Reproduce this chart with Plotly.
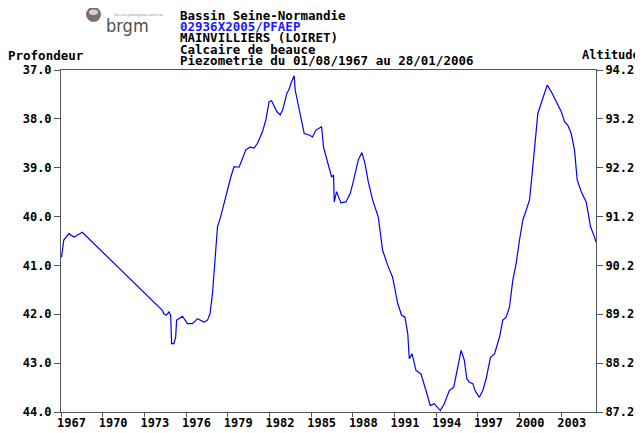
import pandas as pd
import numpy as np
import plotly.graph_objects as go

# ---- data (decimal year, depth in m) ----
years = [1967.62, 1967.78, 1968.15, 1968.50, 1968.87, 1969.11,
         1974.87, 1974.99, 1975.16, 1975.35, 1975.47, 1975.54, 1975.71, 1975.83, 1975.90,
         1976.32, 1976.68, 1977.04, 1977.40, 1977.87, 1978.12, 1978.30, 1978.48, 1978.64,
         1978.84, 1979.07, 1979.31, 1979.56, 1979.80, 1980.03, 1980.39, 1980.64, 1980.88,
         1981.19, 1981.47, 1981.72, 1982.08, 1982.32, 1982.55, 1982.73, 1982.92, 1983.11,
         1983.35, 1983.54, 1983.83, 1983.97, 1984.17, 1984.36, 1984.43, 1984.64, 1984.84,
         1985.08, 1985.44, 1985.68, 1985.92, 1986.33, 1986.47, 1986.76, 1987.05, 1987.19,
         1987.24, 1987.41, 1987.72, 1988.08, 1988.39, 1988.64, 1988.97, 1989.23, 1989.45,
         1989.69, 1990.00, 1990.41, 1990.72, 1991.13, 1991.44, 1991.81, 1992.09, 1992.33,
         1992.53, 1992.64, 1992.84, 1993.12, 1993.48, 1993.84, 1994.15, 1994.44, 1994.64,
         1994.87, 1995.16, 1995.52, 1995.84, 1996.13, 1996.37, 1996.60, 1996.78, 1996.96,
         1997.21, 1997.37, 1997.68, 1997.93, 1998.17, 1998.48, 1998.77, 1999.13, 1999.37,
         1999.61, 1999.85, 2000.09, 2000.33, 2000.57, 2000.81, 2001.05, 2001.29, 2001.48,
         2001.57, 2001.72, 2001.89, 2002.13, 2002.37, 2002.56, 2002.85, 2003.14, 2003.38,
         2003.57, 2003.81, 2004.05, 2004.29, 2004.53, 2004.72, 2005.01, 2005.37, 2005.54,
         2005.68, 2005.97, 2006.07]
depth = [40.83, 40.48, 40.35, 40.42, 40.36, 40.32,
         41.92, 41.99, 42.02, 41.95, 42.02, 42.60, 42.60, 42.47, 42.12,
         42.04, 42.19, 42.19, 42.09, 42.16, 42.12, 41.99, 41.58, 40.89,
         40.21, 40.00, 39.73, 39.42, 39.19, 38.98, 38.99, 38.81, 38.63,
         38.58, 38.60, 38.50, 38.26, 38.02, 37.65, 37.63, 37.75, 37.85,
         37.92, 37.81, 37.48, 37.41, 37.24, 37.12, 37.41, 37.68, 37.96,
         38.30, 38.33, 38.37, 38.23, 38.16, 38.58, 38.91, 39.19, 39.15,
         39.70, 39.49, 39.72, 39.70, 39.53, 39.25, 38.84, 38.69, 38.91,
         39.29, 39.66, 40.01, 40.69, 41.03, 41.24, 41.78, 42.02, 42.06,
         42.40, 42.91, 42.81, 43.15, 43.22, 43.56, 43.87, 43.83, 43.90,
         43.97, 43.83, 43.56, 43.49, 43.08, 42.74, 42.94, 43.32, 43.39,
         43.42, 43.56, 43.70, 43.56, 43.32, 42.88, 42.81, 42.47, 42.12,
         42.06, 41.85, 41.30, 40.96, 40.48, 40.07, 39.87, 39.66, 39.12,
         38.84, 38.30, 37.89, 37.68, 37.48, 37.31, 37.44, 37.61, 37.75,
         37.85, 38.06, 38.13, 38.30, 38.64, 39.25, 39.49, 39.70, 39.94,
         40.21, 40.42, 40.52]

ref_altitude = 131.2  # altitude = ref - depth
depth_ticks = [37.0, 38.0, 39.0, 40.0, 41.0, 42.0, 43.0, 44.0]
alt_ticks = [94.2, 93.2, 92.2, 91.2, 90.2, 89.2, 88.2, 87.2]
date_start = "1967-08-01"
date_end = "2006-01-28"

header_lines = ["Bassin Seine-Normandie", "02936X2005/PFAEP", "MAINVILLIERS (LOIRET)",
                "Calcaire de beauce", "Piezometrie du 01/08/1967 au 28/01/2006"]
header_colors = ["#000000", "#1a1aff", "#000000", "#000000", "#000000"]


def dec_to_date(y):
    yr = int(np.floor(y))
    start = pd.Timestamp(year=yr, month=1, day=1)
    end = pd.Timestamp(year=yr + 1, month=1, day=1)
    return start + (end - start) * (y - yr)


dates = [dec_to_date(y) for y in years]
altitude = [ref_altitude - d for d in depth]

# page body has an 8px margin: shrink figure so that it fits the 643x433 window
OFF = 8
W, H = 643 - OFF, 433 - OFF
PL, PR, PT, PB = 61, 596, 70, 412          # plot area in window pixels
L, T = PL - OFF, PT - OFF
R, B = W - (PR - OFF), H - (PB - OFF)
PW, PH = PR - PL, PB - PT


def px(x):
    return (x - PL) / PW


def py(y):
    return (PB - y) / PH


FONT = "DejaVu Sans Mono"
AX = "#555555"
TF = dict(family=FONT, size=12, color="black", weight="bold")

fig = go.Figure()
fig.add_trace(go.Scatter(x=dates, y=depth, mode="lines",
                         line=dict(color="#0000ff", width=1.2),
                         showlegend=False, hoverinfo="x+y"))
fig.add_trace(go.Scatter(x=dates, y=altitude, mode="lines", yaxis="y2",
                         line=dict(color="rgba(0,0,0,0)", width=0),
                         showlegend=False, hoverinfo="skip"))

fig.update_layout(
    width=W, height=H,
    margin=dict(l=L, r=R, t=T, b=B, pad=0, autoexpand=False),
    paper_bgcolor="white", plot_bgcolor="white",
    font=dict(family=FONT, size=12, color="black"),
    xaxis=dict(type="date", range=[date_start, date_end], automargin=False,
               tick0=date_start, dtick="M36", tickformat="%Y",
               ticks="outside", ticklen=4, tickcolor=AX,
               showline=True, linecolor=AX, linewidth=1, mirror=True,
               showgrid=False, zeroline=False,
               ticklabelposition="outside right", ticklabelshift=-5,
               tickfont=TF),
    yaxis=dict(range=[44, 37], tickvals=depth_ticks, automargin=False,
               ticktext=[f"{v:.1f}" for v in depth_ticks],
               ticks="outside", ticklen=6, tickcolor=AX,
               showline=True, linecolor=AX, linewidth=1,
               showgrid=False, zeroline=False,
               tickfont=TF),
    yaxis2=dict(range=[87.2, 94.2], tickvals=alt_ticks, automargin=False,
                ticktext=[f"{v:.1f}" for v in alt_ticks],
                overlaying="y", side="right",
                ticks="outside", ticklen=6, tickcolor=AX,
                showline=True, linecolor=AX, linewidth=1,
                showgrid=False, zeroline=False,
                tickfont=TF),
)

ann = []
ys = [15, 26.5, 37.5, 49.5, 61]
for txt, col, yy in zip(header_lines, header_colors, ys):
    ann.append(dict(text=txt, x=px(178), y=py(yy), xref="paper", yref="paper",
                    xanchor="left", yanchor="middle", showarrow=False,
                    font=dict(family=FONT, size=12.5, color=col, weight="bold")))
ann.append(dict(text="Profondeur", x=px(6), y=py(55), xref="paper", yref="paper",
                xanchor="left", yanchor="middle", showarrow=False,
                font=dict(family=FONT, size=12.5, color="black", weight="bold")))
ann.append(dict(text="Altitude", x=px(580), y=py(55.5), xref="paper", yref="paper",
                xanchor="left", yanchor="middle", showarrow=False,
                font=dict(family=FONT, size=12, color="black", weight="bold")))
# logo
ann.append(dict(text="brgm", x=px(104), y=py(26), xref="paper", yref="paper",
                xanchor="left", yanchor="middle", showarrow=False,
                font=dict(family="DejaVu Sans Condensed", size=18, color="#505050")))
ann.append(dict(text="Service géologique national", x=px(112), y=py(15), xref="paper", yref="paper",
                xanchor="left", yanchor="middle", showarrow=False,
                font=dict(family="DejaVu Sans", size=3.5, color="#9a9a9a")))
fig.update_layout(annotations=ann)

fig.add_shape(type="circle", xref="paper", yref="paper",
              x0=px(86), x1=px(101), y0=py(22), y1=py(7),
              fillcolor="#7d6e69", line=dict(width=0))
fig.add_shape(type="circle", xref="paper", yref="paper",
              x0=px(89), x1=px(98), y0=py(15), y1=py(9.5),
              fillcolor="#d9d2cf", line=dict(width=0))

fig.write_html("out.html")
